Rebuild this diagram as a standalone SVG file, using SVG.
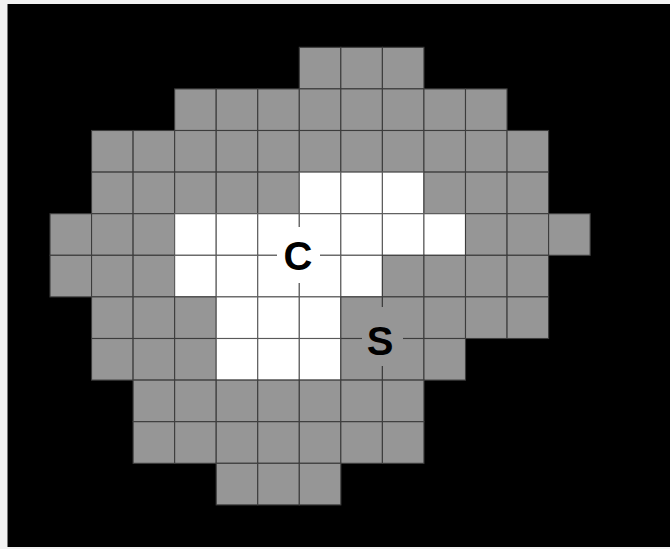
<svg xmlns="http://www.w3.org/2000/svg" width="670" height="549" viewBox="0 0 670 549">
<style>
.g{fill:#969696;stroke:#3c3c3c;stroke-width:1.1}
.w{fill:#ffffff;stroke:#5a5a5a;stroke-width:1.1}
.lbl{font-family:"Liberation Sans",Arial,sans-serif;font-weight:bold;font-size:40px;fill:#000;text-anchor:middle}
</style>
<defs>
<rect id="c" width="41.55" height="41.6"/>
</defs>
<rect x="0" y="0" width="670" height="549" fill="#f2f2f2"/>
<rect x="7.5" y="4" width="662.5" height="543" fill="#000"/>
<g id="cells">
<!-- row 0 -->
<use href="#c" class="g" x="299.3" y="47.3"/><use href="#c" class="g" x="340.85" y="47.3"/><use href="#c" class="g" x="382.4" y="47.3"/>
<!-- row 1 -->
<use href="#c" class="g" x="174.65" y="88.9"/><use href="#c" class="g" x="216.2" y="88.9"/><use href="#c" class="g" x="257.75" y="88.9"/><use href="#c" class="g" x="299.3" y="88.9"/><use href="#c" class="g" x="340.85" y="88.9"/><use href="#c" class="g" x="382.4" y="88.9"/><use href="#c" class="g" x="423.95" y="88.9"/><use href="#c" class="g" x="465.5" y="88.9"/>
<!-- row 2 -->
<use href="#c" class="g" x="91.55" y="130.5"/><use href="#c" class="g" x="133.1" y="130.5"/><use href="#c" class="g" x="174.65" y="130.5"/><use href="#c" class="g" x="216.2" y="130.5"/><use href="#c" class="g" x="257.75" y="130.5"/><use href="#c" class="g" x="299.3" y="130.5"/><use href="#c" class="g" x="340.85" y="130.5"/><use href="#c" class="g" x="382.4" y="130.5"/><use href="#c" class="g" x="423.95" y="130.5"/><use href="#c" class="g" x="465.5" y="130.5"/><use href="#c" class="g" x="507.05" y="130.5"/>
<!-- row 3 -->
<use href="#c" class="g" x="91.55" y="172.1"/><use href="#c" class="g" x="133.1" y="172.1"/><use href="#c" class="g" x="174.65" y="172.1"/><use href="#c" class="g" x="216.2" y="172.1"/><use href="#c" class="g" x="257.75" y="172.1"/><use href="#c" class="w" x="299.3" y="172.1"/><use href="#c" class="w" x="340.85" y="172.1"/><use href="#c" class="w" x="382.4" y="172.1"/><use href="#c" class="g" x="423.95" y="172.1"/><use href="#c" class="g" x="465.5" y="172.1"/><use href="#c" class="g" x="507.05" y="172.1"/>
<!-- row 4 -->
<use href="#c" class="g" x="50" y="213.7"/><use href="#c" class="g" x="91.55" y="213.7"/><use href="#c" class="g" x="133.1" y="213.7"/><use href="#c" class="w" x="174.65" y="213.7"/><use href="#c" class="w" x="216.2" y="213.7"/><use href="#c" class="w" x="257.75" y="213.7"/><use href="#c" class="w" x="299.3" y="213.7"/><use href="#c" class="w" x="340.85" y="213.7"/><use href="#c" class="w" x="382.4" y="213.7"/><use href="#c" class="w" x="423.95" y="213.7"/><use href="#c" class="g" x="465.5" y="213.7"/><use href="#c" class="g" x="507.05" y="213.7"/><use href="#c" class="g" x="548.6" y="213.7"/>
<!-- row 5 -->
<use href="#c" class="g" x="50" y="255.3"/><use href="#c" class="g" x="91.55" y="255.3"/><use href="#c" class="g" x="133.1" y="255.3"/><use href="#c" class="w" x="174.65" y="255.3"/><use href="#c" class="w" x="216.2" y="255.3"/><use href="#c" class="w" x="257.75" y="255.3"/><use href="#c" class="w" x="299.3" y="255.3"/><use href="#c" class="w" x="340.85" y="255.3"/><use href="#c" class="g" x="382.4" y="255.3"/><use href="#c" class="g" x="423.95" y="255.3"/><use href="#c" class="g" x="465.5" y="255.3"/><use href="#c" class="g" x="507.05" y="255.3"/>
<!-- row 6 -->
<use href="#c" class="g" x="91.55" y="296.9"/><use href="#c" class="g" x="133.1" y="296.9"/><use href="#c" class="g" x="174.65" y="296.9"/><use href="#c" class="w" x="216.2" y="296.9"/><use href="#c" class="w" x="257.75" y="296.9"/><use href="#c" class="w" x="299.3" y="296.9"/><use href="#c" class="g" x="340.85" y="296.9"/><use href="#c" class="g" x="382.4" y="296.9"/><use href="#c" class="g" x="423.95" y="296.9"/><use href="#c" class="g" x="465.5" y="296.9"/><use href="#c" class="g" x="507.05" y="296.9"/>
<!-- row 7 -->
<use href="#c" class="g" x="91.55" y="338.5"/><use href="#c" class="g" x="133.1" y="338.5"/><use href="#c" class="g" x="174.65" y="338.5"/><use href="#c" class="w" x="216.2" y="338.5"/><use href="#c" class="w" x="257.75" y="338.5"/><use href="#c" class="w" x="299.3" y="338.5"/><use href="#c" class="g" x="340.85" y="338.5"/><use href="#c" class="g" x="382.4" y="338.5"/><use href="#c" class="g" x="423.95" y="338.5"/>
<!-- row 8 -->
<use href="#c" class="g" x="133.1" y="380.1"/><use href="#c" class="g" x="174.65" y="380.1"/><use href="#c" class="g" x="216.2" y="380.1"/><use href="#c" class="g" x="257.75" y="380.1"/><use href="#c" class="g" x="299.3" y="380.1"/><use href="#c" class="g" x="340.85" y="380.1"/><use href="#c" class="g" x="382.4" y="380.1"/>
<!-- row 9 -->
<use href="#c" class="g" x="133.1" y="421.7"/><use href="#c" class="g" x="174.65" y="421.7"/><use href="#c" class="g" x="216.2" y="421.7"/><use href="#c" class="g" x="257.75" y="421.7"/><use href="#c" class="g" x="299.3" y="421.7"/><use href="#c" class="g" x="340.85" y="421.7"/><use href="#c" class="g" x="382.4" y="421.7"/>
<!-- row 10 -->
<use href="#c" class="g" x="216.2" y="463.3"/><use href="#c" class="g" x="257.75" y="463.3"/><use href="#c" class="g" x="299.3" y="463.3"/>
</g>
<g id="label-C">
<rect x="277" y="227" width="43" height="56" fill="#ffffff"/>
<text class="lbl" x="298" y="270">C</text>
</g>
<g id="label-S">
<rect x="362" y="307" width="41" height="59" fill="#969696"/>
<text class="lbl" x="380" y="354.5">S</text>
</g>
</svg>
